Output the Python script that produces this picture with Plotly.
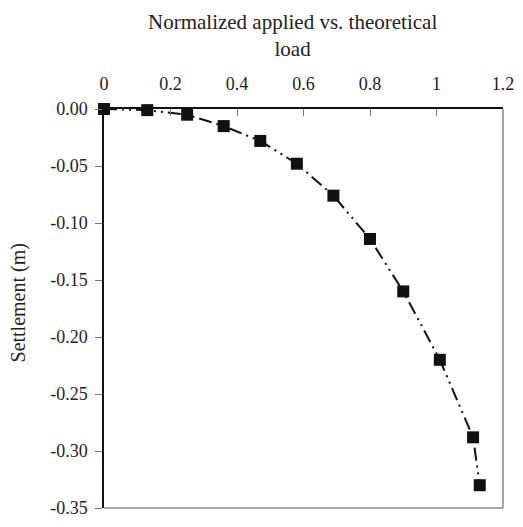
import plotly.graph_objects as go

load_ratio = [0, 0.13, 0.25, 0.36, 0.47, 0.58, 0.69, 0.80, 0.90, 1.01, 1.11, 1.13]
settlement = [0, -0.001, -0.005, -0.015, -0.028, -0.048, -0.076, -0.114, -0.160, -0.220, -0.288, -0.330]

x_tickvals = [0, 0.2, 0.4, 0.6, 0.8, 1.0, 1.2]
x_ticktext = ["0", "0.2", "0.4", "0.6", "0.8", "1", "1.2"]
y_tickvals = [0, -0.05, -0.10, -0.15, -0.20, -0.25, -0.30, -0.35]
y_ticktext = ["0.00", "-0.05", "-0.10", "-0.15", "-0.20", "-0.25", "-0.30", "-0.35"]

x_title = "Normalized applied vs. theoretical<br>load"
y_title = "Settlement (m)"

FONT = "Liberation Serif"

fig = go.Figure()
fig.add_trace(go.Scatter(
    x=load_ratio, y=settlement, mode="lines+markers",
    line=dict(color="#111111", width=2, dash="13px,5px,2px,5px,2px,5px"),
    marker=dict(symbol="square", size=12, color="#111111"),
    cliponaxis=False, showlegend=False,
))

fig.update_layout(
    width=523, height=527,
    margin=dict(l=104, r=9, t=109, b=9),
    paper_bgcolor="white", plot_bgcolor="white",
    font=dict(family=FONT, size=18, color="#222222"),
    xaxis=dict(
        side="top", range=[0, 1.2],
        tickmode="array", tickvals=x_tickvals, ticktext=x_ticktext,
        showgrid=False, zeroline=False,
        showline=True, linecolor="#111111", linewidth=1.5,
        ticks="inside", ticklen=7, tickcolor="#777777", tickwidth=1,
        tickfont=dict(family=FONT, size=18, color="#222222"),
        ticklabelstandoff=10, ticklabeloverflow="allow",
    ),
    yaxis=dict(
        range=[-0.35, 0],
        tickmode="array", tickvals=y_tickvals, ticktext=y_ticktext,
        showgrid=False, zeroline=False,
        showline=True, linecolor="#111111", linewidth=1.5,
        ticks="outside", ticklen=7, tickcolor="#777777", tickwidth=1,
        tickfont=dict(family=FONT, size=18, color="#222222"),
        ticklabelstandoff=4, ticklabeloverflow="allow",
    ),
    shapes=[
        dict(type="line", xref="paper", yref="paper", x0=1, x1=1, y0=0, y1=1,
             line=dict(color="#888888", width=1.5)),
        dict(type="line", xref="paper", yref="paper", x0=0, x1=1, y0=0, y1=0,
             line=dict(color="#888888", width=1.5)),
    ],
    annotations=[
        dict(text=x_title, xref="paper", yref="paper",
             x=(298 - 104) / 410, y=(518 - 34) / 409,
             showarrow=False, xanchor="center", yanchor="middle",
             font=dict(family=FONT, size=21, color="#222222")),
        dict(text=y_title, xref="paper", yref="paper", textangle=-90,
             x=(16 - 104) / 410, y=(518 - 308) / 409,
             showarrow=False, xanchor="center", yanchor="middle",
             font=dict(family=FONT, size=20, color="#222222")),
    ],
)

fig.write_html("out.html", config={"displayModeBar": False},
               post_script="document.body.style.margin='0';document.body.style.overflow='hidden';")
